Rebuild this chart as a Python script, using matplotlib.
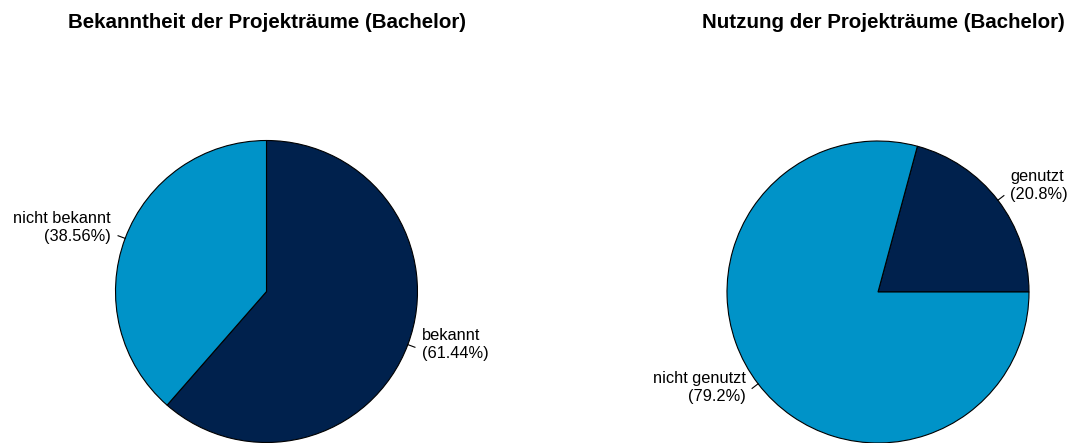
import numpy as np
import matplotlib
matplotlib.use("Agg")
import matplotlib.pyplot as plt

plt.rcParams['font.family'] = ['Liberation Sans', 'DejaVu Sans']

# ---- data ----
left_title = "Bekanntheit der Projekträume (Bachelor)"
left_labels = ["bekannt", "nicht bekannt"]
left_values = [61.44, 38.56]
left_pct = ["61.44", "38.56"]

right_title = "Nutzung der Projekträume (Bachelor)"
right_labels = ["genutzt", "nicht genutzt"]
right_values = [20.8, 79.2]
right_pct = ["20.8", "79.2"]

navy = "#00214D"
light = "#0093C8"

W, H = 1070, 443
fig = plt.figure(figsize=(W / 100, H / 100), dpi=100)
R = 151.0


def set_limits(ax, x0px, x1px, cx, cy):
    ax.set_aspect('auto')
    ax.set_xlim(-(cx - x0px) / R, (x1px - cx) / R)
    yb = H - cy
    ax.set_ylim(-yb / R, (H - yb) / R)
    ax.axis('off')


def draw_pie(x0px, x1px, cx, cy, values, labels, pcts, colors, start, ccw):
    ax = fig.add_axes([x0px / W, 0, (x1px - x0px) / W, 1])
    wedges, _ = ax.pie(values, colors=colors, startangle=start, counterclock=ccw,
                       radius=1.0, wedgeprops=dict(edgecolor='black', linewidth=0.8))
    set_limits(ax, x0px, x1px, cx, cy)
    for w, lab, p in zip(wedges, labels, pcts):
        th = np.deg2rad((w.theta1 + w.theta2) / 2)
        c, s = np.cos(th), np.sin(th)
        ax.plot([c, 1.05 * c], [s, 1.05 * s], color='black', lw=0.8, clip_on=False)
        ax.text(1.1 * c, 1.1 * s + 5.5 / R, f"{lab}\n({p}%)",
                ha='left' if c >= 0 else 'right', va='center',
                fontsize=11.8, color='black', linespacing=1.2,
                multialignment='left' if c >= 0 else 'right')
    set_limits(ax, x0px, x1px, cx, cy)
    return ax


draw_pie(0, 535, 266.5, 291.5, left_values, left_labels, left_pct,
         [navy, light], 90, False)
draw_pie(535, 1070, 878, 292, right_values, right_labels, right_pct,
         [navy, light], 0, True)

fig.text(267 / W, 1 - 23 / H, left_title, ha='center', va='center',
         fontsize=14.8, fontweight='bold')
fig.text(883 / W, 1 - 23 / H, right_title, ha='center', va='center',
         fontsize=14.8, fontweight='bold')

fig.savefig("out.png", dpi=100, facecolor='white')
